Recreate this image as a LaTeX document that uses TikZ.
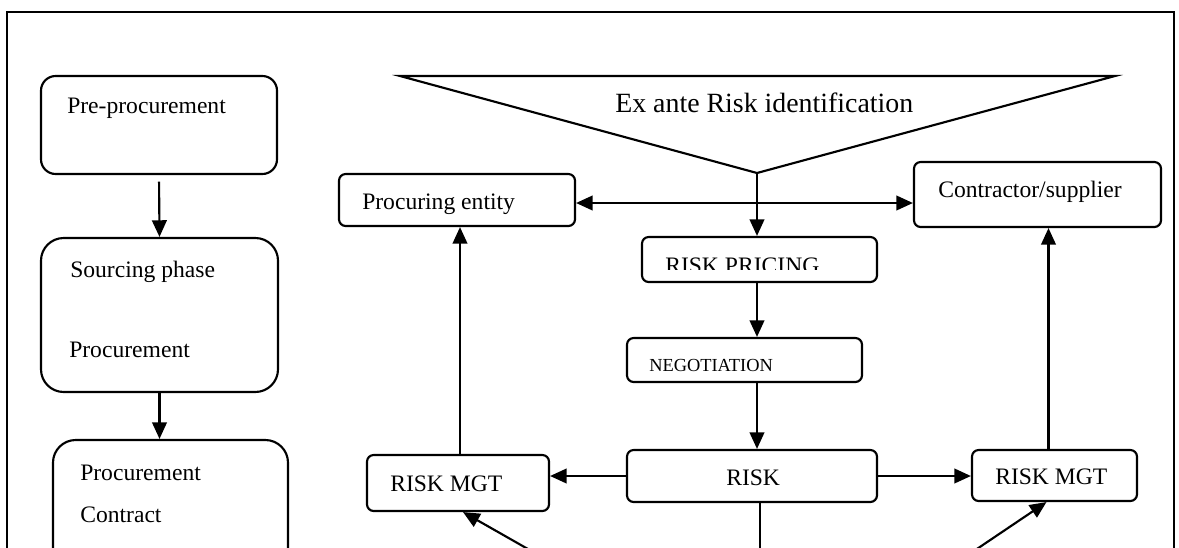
\documentclass[tikz,border=0pt]{standalone}
\usepackage{fontspec}
\setmainfont{Liberation Serif}
\usetikzlibrary{arrows.meta,fit,calc}
\begin{document}
\begin{tikzpicture}[x=0.75pt,y=-0.75pt,
  box/.style={draw,line width=1.6pt,inner sep=0pt,rounded corners=5pt},
  bigbox/.style={box,rounded corners=17pt},
  lbl/.style={anchor=base west,inner sep=0pt,font=\fontsize{17.7}{20}\selectfont},
  arr/.style={line width=1.6pt,-{Triangle[length=12.5pt,width=11pt]}},
  darr/.style={line width=1.6pt,{Triangle[length=12.5pt,width=11pt]}-{Triangle[length=12.5pt,width=11pt]}},
  plain/.style={line width=1.6pt}]
\useasboundingbox (0,0) rectangle (1179,547);
\clip (0,0) rectangle (1179,547);
% outer frame
\draw[line width=1.3pt] (7,570) -- (7,12) -- (1174,12) -- (1174,570);

% left column
\node[box,rounded corners=11pt,fit={(41,76)(277,174)}] (pre) {};
\node[lbl] (pret) at (67,113) {Pre-procurement};
\node[bigbox,fit={(41,238)(278,392)}] (src) {};
\node[lbl] (srct1) at (70,277) {Sourcing phase};
\node[lbl] (srct2) at (69,357) {Procurement};
\node[bigbox,fit={(53,440)(288,620)}] (con) {};
\node[lbl] (cont1) at (80,480) {Procurement};
\node[lbl] (cont2) at (80,522) {Contract};
\draw[arr,shorten <=5pt] (pre.south) -- (src.north);
\draw[arr] (src.south) -- (src.south |- con.north);

% triangle
\coordinate (tl) at (400,76);
\coordinate (tr) at (1115,76);
\coordinate (apex) at (757,173);
\draw[line width=1.6pt,line join=miter] (tl) -- (tr) -- (apex) -- cycle;
\node[anchor=base west,inner sep=0pt,font=\fontsize{20.9}{24}\selectfont] (exa) at (615,112) {Ex ante Risk identification};

% right part boxes
\node[box,fit={(339,174)(575,226)}] (pe) {};
\node[lbl] (pet) at (362,209) {Procuring entity};
\node[box,fit={(914,162)(1161,227)}] (cs) {};
\node[lbl] (cst) at (938,197) {Contractor/supplier};
\node[box,fit={(642,237)(877,282)}] (rp) {};
\begin{scope}
\clip (600,240) rectangle (900,269.5);
\node[lbl] (rpt) at (665,273) {RISK PRICING};
\end{scope}
\node[box,fit={(627,338)(862,382)}] (neg) {};
\node[anchor=base west,inner sep=0pt,font=\fontsize{13.8}{16}\selectfont] (negt) at (649,371) {NEGOTIATION};
\node[box,fit={(627,450)(877,502)}] (risk) {};
\node[lbl] (riskt) at (726,485) {RISK};
\node[box,fit={(367,455)(549,511)}] (rml) {};
\node[lbl] (rmlt) at (390,491) {RISK MGT};
\node[box,fit={(972,450)(1137,501)}] (rmr) {};
\node[lbl] (rmrt) at (995,484) {RISK MGT};

% connectors
\draw[arr] (apex) -- (apex |- rp.north);
\draw[darr] ($(pe.east)+(0,3)$) -- ($(pe.east -| cs.west)+(0,3)$);
\draw[arr] (apex |- rp.south) -- (apex |- neg.north);
\draw[arr] (apex |- neg.south) -- (apex |- risk.north);
\draw[arr] (risk.west) -- (risk.west -| rml.east);
\draw[arr] (risk.east) -- (risk.east -| rmr.west);
\draw[arr] ($(rml.north)+(2,0)$) -- ($(rml.north |- pe.south)+(2,0)$);
\draw[arr] ($(rmr.north)+(-6,0)$) -- ($(rmr.north |- cs.south)+(-6,0)$);
\coordinate (dl) at (542,557);
\coordinate (dr) at (965,557);
\coordinate (dd) at (760,560);
\draw[arr] (dl) -- ($(rml.south)+(5,0)$);
\draw[arr] (dr) -- ($(rmr.south)+(-8,0)$);
\draw[plain] ($(risk.south)+(8,0)$) -- (dd);
\end{tikzpicture}
\end{document}
